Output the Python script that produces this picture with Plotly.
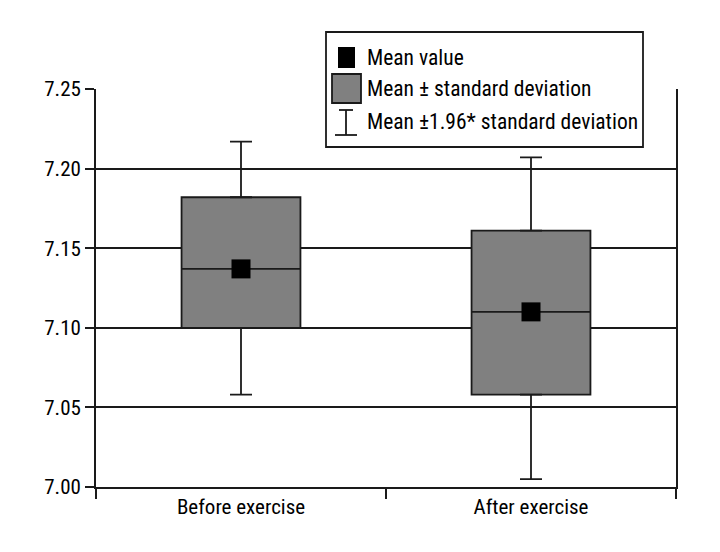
import plotly.graph_objects as go

categories = ["Before exercise", "After exercise"]
mean_vals = [7.137, 7.110]
sd_lower = [7.100, 7.058]
sd_upper = [7.182, 7.161]
ci_lower = [7.058, 7.005]
ci_upper = [7.217, 7.207]
y_ticks = [7.00, 7.05, 7.10, 7.15, 7.20, 7.25]
legend_labels = ["Mean value", "Mean \u00b1 standard deviation", "Mean \u00b11.96* standard deviation"]

FONT = "Roboto Condensed, Liberation Sans Narrow, sans-serif"
LINE = "#1a1a1a"
GRAY = "#808080"
LW = 1.8

fig = go.Figure()

# Mean +/- SD boxes (centre line = mean)
fig.add_trace(go.Box(
    x=categories, q1=sd_lower, median=mean_vals, q3=sd_upper,
    lowerfence=sd_lower, upperfence=sd_upper,
    fillcolor=GRAY, line=dict(color=LINE, width=LW),
    width=0.41, whiskerwidth=0, boxpoints=False, showlegend=False, hoverinfo="skip",
))

# upper whiskers
fig.add_trace(go.Scatter(
    x=categories, y=sd_upper, mode="markers",
    marker=dict(size=1, color="rgba(0,0,0,0)"),
    error_y=dict(type="data", symmetric=False,
                 array=[u - q for u, q in zip(ci_upper, sd_upper)],
                 arrayminus=[0, 0], width=11, thickness=LW, color=LINE),
    showlegend=False, hoverinfo="skip",
))
# lower whiskers
fig.add_trace(go.Scatter(
    x=categories, y=sd_lower, mode="markers",
    marker=dict(size=1, color="rgba(0,0,0,0)"),
    error_y=dict(type="data", symmetric=False,
                 array=[0, 0],
                 arrayminus=[q - l for q, l in zip(sd_lower, ci_lower)],
                 width=11, thickness=LW, color=LINE),
    showlegend=False, hoverinfo="skip",
))

# mean markers
fig.add_trace(go.Scatter(
    x=categories, y=mean_vals, mode="markers",
    marker=dict(symbol="square", size=19, color="black"),
    showlegend=False, hoverinfo="skip",
))

OFF = 8  # page body margin
W, H = 720, 552
L, T = 96 - OFF, 89 - OFF
R = W - (676 - OFF)
B = H - (487 - OFF)
pw, ph = W - L - R, H - T - B

def sx(x):
    return (x - OFF - L) / pw

def sy(y):
    return (H - B - (y - OFF)) / ph

shapes = [
    dict(type="rect", xref="paper", yref="paper", x0=sx(326), x1=sx(643), y0=sy(147), y1=sy(32),
         line=dict(color=LINE, width=LW), fillcolor="white", layer="above"),
    dict(type="rect", xref="paper", yref="paper", x0=sx(338), x1=sx(355), y0=sy(68), y1=sy(47),
         line=dict(width=0), fillcolor="black", layer="above"),
    dict(type="rect", xref="paper", yref="paper", x0=sx(332), x1=sx(361), y0=sy(103), y1=sy(74),
         line=dict(color=LINE, width=LW), fillcolor=GRAY, layer="above"),
    dict(type="line", xref="paper", yref="paper", x0=sx(346), x1=sx(346), y0=sy(135), y1=sy(110),
         line=dict(color=LINE, width=LW), layer="above"),
    dict(type="line", xref="paper", yref="paper", x0=sx(339), x1=sx(353), y0=sy(110), y1=sy(110),
         line=dict(color=LINE, width=LW), layer="above"),
    dict(type="line", xref="paper", yref="paper", x0=sx(335), x1=sx(357), y0=sy(135), y1=sy(135),
         line=dict(color=LINE, width=LW), layer="above"),
]

annotations = []
for lab, yc in zip(legend_labels, [57, 88, 122]):
    annotations.append(dict(
        text=lab, xref="paper", yref="paper", x=sx(365), y=sy(yc),
        xanchor="left", yanchor="middle", showarrow=False,
        font=dict(family=FONT, size=21.5, color="black"),
    ))

fig.update_layout(
    width=W, height=H,
    margin=dict(l=L, r=R, t=T, b=B),
    paper_bgcolor="white", plot_bgcolor="white",
    font=dict(family=FONT, size=21, color="black"),
    shapes=shapes, annotations=annotations,
    showlegend=False,
    xaxis=dict(
        type="category", categoryorder="array", categoryarray=categories,
        range=[-0.5, 1.5], tickson="boundaries",
        ticks="outside", ticklen=10, tickwidth=LW, tickcolor=LINE,
        showline=True, linecolor=LINE, linewidth=LW,
        showgrid=False, zeroline=False,
    ),
    yaxis=dict(
        range=[7.0, 7.25], tickvals=y_ticks, tickformat=".2f",
        ticks="outside", ticklen=9, tickwidth=LW, tickcolor=LINE,
        showline=True, mirror=True, linecolor=LINE, linewidth=LW,
        showgrid=True, gridcolor=LINE, gridwidth=LW, zeroline=False,
    ),
)

fig.write_html("out.html")
